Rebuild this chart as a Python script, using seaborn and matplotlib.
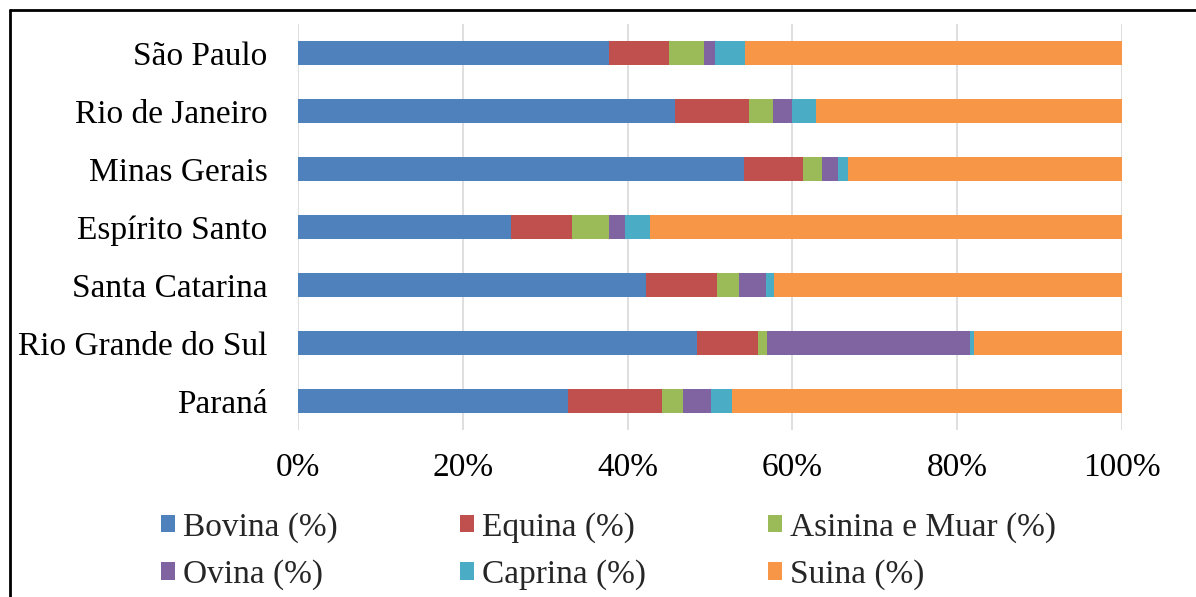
import numpy as np
import pandas as pd
import matplotlib
matplotlib.use("Agg")
import matplotlib.pyplot as plt
import seaborn as sns
from matplotlib.patches import Patch
from matplotlib.lines import Line2D

states = ["São Paulo", "Rio de Janeiro", "Minas Gerais", "Espírito Santo",
          "Santa Catarina", "Rio Grande do Sul", "Paraná"]
bovina = [37.8, 45.8, 54.1, 25.8, 42.2, 48.4, 32.8]
equina = [7.2, 8.9, 7.2, 7.4, 8.7, 7.4, 11.4]
asinina = [4.3, 2.9, 2.3, 4.5, 2.6, 1.1, 2.5]
ovina = [1.3, 2.4, 1.9, 2.0, 3.3, 24.7, 3.4]
caprina = [3.6, 2.9, 1.2, 3.0, 1.0, 0.4, 2.6]
suina = [45.8, 37.1, 33.3, 57.3, 42.2, 18.0, 47.3]

series_names = ["Bovina (%)", "Equina (%)", "Asinina e Muar (%)",
                "Ovina (%)", "Caprina (%)", "Suina (%)"]
series_vals = [bovina, equina, asinina, ovina, caprina, suina]
colors = ["#4F81BD", "#C0504D", "#9BBB59", "#8064A2", "#4BACC6", "#F79646"]
xticks = [0, 20, 40, 60, 80, 100]
xticklabels = ["0%", "20%", "40%", "60%", "80%", "100%"]

sns.set_theme(style="white")
plt.rcParams["font.family"] = ["Liberation Serif", "DejaVu Serif"]

W, H = 1196, 597
fig = plt.figure(figsize=(W / 100, H / 100), dpi=100)
ax = fig.add_axes([298 / W, 1 - 430 / H, (1122 - 298) / W, (430 - 24) / H])

df = pd.DataFrame({"state": states})
cum = np.zeros(len(states))
cums = []
for vals in series_vals:
    cum = cum + np.array(vals)
    cums.append(cum.copy())

for i in reversed(range(len(series_vals))):
    d = df.copy()
    d["v"] = cums[i]
    sns.barplot(data=d, x="v", y="state", color=colors[i], orient="h",
                width=0.4, saturation=1, ax=ax, zorder=3, linewidth=0)

ax.set_xlim(0, 100)
ax.set_ylim(6.5, -0.5)
ax.set_xticks(xticks)
ax.set_xticklabels(xticklabels)
ax.set_xlabel("")
ax.set_ylabel("")
for x in xticks:
    ax.axvline(x, color="#D9D9D9", linewidth=1.2, zorder=1)
for s in ax.spines.values():
    s.set_visible(False)
ax.tick_params(axis="both", length=0, labelsize=24, colors="black")
ax.tick_params(axis="y", pad=22)
ax.tick_params(axis="x", pad=16)

handles = [Patch(facecolor=c, edgecolor="none") for c in colors]
order = [0, 3, 1, 4, 2, 5]
fig.legend([handles[i] for i in order], [series_names[i] for i in order],
           ncol=3, loc="center left", bbox_to_anchor=(161 / W, 1 - 551 / H),
           frameon=False, fontsize=24, handlelength=0.42, handleheight=0.42,
           handletextpad=0.25, columnspacing=3.65, labelspacing=0.5,
           borderpad=0, borderaxespad=0)

fig.add_artist(Line2D([10 / W, 10 / W], [0, 1 - 10 / H], transform=fig.transFigure,
                      color="black", linewidth=2))
fig.add_artist(Line2D([10 / W, 1], [1 - 10 / H, 1 - 10 / H], transform=fig.transFigure,
                      color="black", linewidth=2))

fig.savefig("out.png", dpi=100, facecolor="white")
